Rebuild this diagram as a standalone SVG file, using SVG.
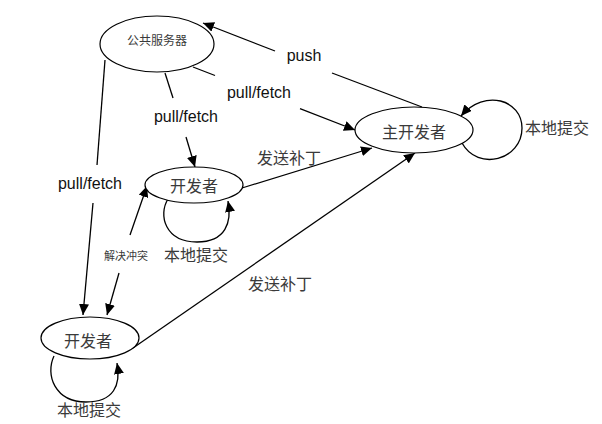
<svg xmlns="http://www.w3.org/2000/svg" width="602" height="424" viewBox="0 0 602 424">
<defs>
<marker id="arr" markerUnits="userSpaceOnUse" markerWidth="12" markerHeight="10" refX="11" refY="5" orient="auto">
<path d="M0,0 L11,5 L0,10 Z" fill="#000"/>
</marker>
<style>
.node ellipse{fill:#fff;stroke:#000;stroke-width:1.2}
.cn{font-family:"Noto Sans CJK SC","Noto Sans CJK JP",sans-serif;fill:#3a3a3a;text-anchor:middle;dominant-baseline:central}
.en{font-family:"Liberation Sans",Arial,sans-serif;font-size:16px;fill:#111;text-anchor:middle}
.c path,.c line{stroke:#000;stroke-width:1.3;fill:none}
</style>
</defs>
<rect width="602" height="424" fill="#fff"/>
<g id="connectors" class="c">
<line x1="422" y1="107" x2="332" y2="73"/>
<line x1="275" y1="51" x2="203" y2="23" marker-end="url(#arr)"/>
<line x1="193" y1="67" x2="215" y2="75.5"/>
<line x1="300" y1="108.6" x2="355" y2="130" marker-end="url(#arr)"/>
<line x1="165" y1="73" x2="173" y2="98"/>
<line x1="186" y1="137" x2="195" y2="167" marker-end="url(#arr)"/>
<line x1="105" y1="60" x2="97" y2="165"/>
<line x1="93" y1="203" x2="83" y2="315" marker-end="url(#arr)"/>
<line x1="130" y1="235" x2="147" y2="186" marker-end="url(#arr)"/>
<line x1="119" y1="273" x2="107" y2="315" marker-end="url(#arr)"/>
<line x1="242" y1="188" x2="372" y2="148" marker-end="url(#arr)"/>
<line x1="133" y1="348" x2="415" y2="153" marker-end="url(#arr)"/>
<path d="M462,143 C478,172 522,160 522,128 C522,100 485,88 461,116" marker-end="url(#arr)"/>
<path d="M168,199 C158,215 165,242 197,242 C226,242 232,222 228,201" marker-end="url(#arr)"/>
<path d="M54,356 C45,375 55,402 86,402 C114,402 121,385 117,363" marker-end="url(#arr)"/>
</g>
<g id="labels">
<text class="en" x="304" y="61">push</text>
<text class="en" x="259" y="98">pull/fetch</text>
<text class="en" x="186" y="122">pull/fetch</text>
<text class="en" x="90" y="189">pull/fetch</text>
<text class="cn" x="289" y="157" font-size="16">发送补丁</text>
<text class="cn" x="280" y="283" font-size="16">发送补丁</text>
<text class="cn" x="126" y="255" font-size="11">解决冲突</text>
<text class="cn" x="557" y="127" font-size="16">本地提交</text>
<text class="cn" x="196" y="254" font-size="16">本地提交</text>
<text class="cn" x="89" y="409" font-size="16">本地提交</text>
</g>
<g id="public-server" class="node">
<ellipse cx="157" cy="44" rx="57" ry="28"/>
<text class="cn" x="157" y="39" font-size="12">公共服务器</text>
</g>
<g id="main-developer" class="node">
<ellipse cx="414" cy="130" rx="59" ry="23"/>
<text class="cn" x="414" y="131" font-size="16">主开发者</text>
</g>
<g id="developer-1" class="node">
<ellipse cx="194" cy="185" rx="49" ry="18"/>
<text class="cn" x="194" y="185" font-size="16">开发者</text>
</g>
<g id="developer-2" class="node">
<ellipse cx="90" cy="338" rx="49" ry="21"/>
<text class="cn" x="88" y="340" font-size="16">开发者</text>
</g>
</svg>
